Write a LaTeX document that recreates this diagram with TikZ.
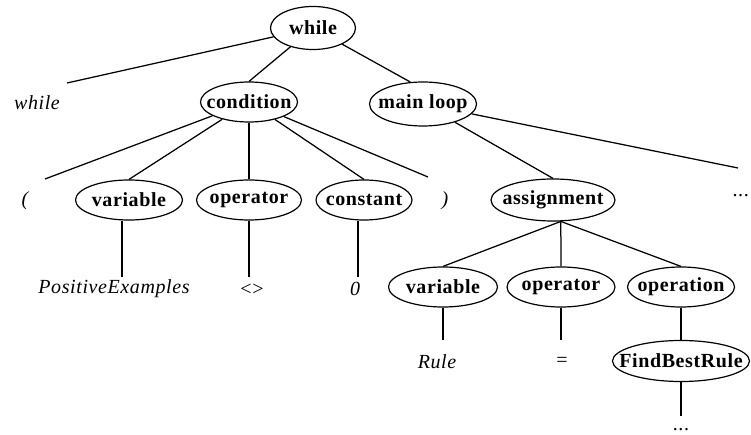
\documentclass[tikz,border=0pt]{standalone}
\usepackage{fontspec}
\setmainfont{Liberation Serif}
\newfontfamily\nodefont{Liberation Serif}[LetterSpace=3]
\newfontfamily\leaffont{Liberation Serif}[LetterSpace=3]
\usetikzlibrary{shapes.geometric}
\begin{document}
\begin{tikzpicture}[x=1pt,y=-1pt,
  edge/.style={line width=1.25pt},
  ell/.style 2 args={draw, ellipse, line width=1.2pt, inner sep=0pt, minimum width=#1pt, minimum height=#2pt},
  btxt/.style={font=\fontsize{20}{22}\nodefont\bfseries, inner sep=0pt},
  itxt/.style={font=\fontsize{20}{22}\leaffont\itshape, inner sep=0pt},
  rtxt/.style={font=\fontsize{20}{22}\leaffont, inner sep=0pt}]
\useasboundingbox (0,0) rectangle (751,435);
% ellipse nodes
\node[ell={85}{43}, label={[btxt]center:while}] (while) at (313,28) {};
\node[ell={97}{40}, label={[btxt]center:condition}] (condition) at (249,102) {};
\node[ell={107}{44}, label={[btxt]center:main loop}] (mainloop) at (423,104) {};
\node[ell={107}{40}, label={[btxt]center:variable}] (variable) at (129,200) {};
\node[ell={105}{40}, label={[btxt]center:operator}] (operator) at (249,200) {};
\node[ell={96}{40}, label={[btxt]center:constant}] (constant) at (364,200) {};
\node[ell={124}{42}, label={[btxt]center:assignment}] (assignment) at (553,200) {};
\node[ell={109}{40}, label={[btxt]center:variable}] (var2) at (443,287) {};
\node[ell={108}{40}, label={[btxt]center:operator}] (op2) at (561,287) {};
\node[ell={107}{40}, label={[btxt]center:operation}] (operation) at (681,287) {};
\node[ell={137}{41}, label={[btxt]center:FindBestRule}] (fbr) at (681,361) {};
% leaf texts
\node[itxt] (whiletxt) at (37,103) {while};
\node[itxt] (lp) at (25,201) {(};
\node[itxt] (rp) at (445,201) {)};
\node[rtxt, anchor=base east] (dots1) at (749,197) {...};
\node[itxt] (pe) at (114,289) {PositiveExamples};
\node[rtxt] (ne) at (252,290) {<>};
\node[itxt] (zero) at (355,289) {0};
\node[itxt] (rule) at (437,362) {Rule};
\node[rtxt] (eq) at (562,362) {=};
\node[rtxt, anchor=base] (dots2) at (681,430) {...};
% free line ends
\coordinate (wend) at (67,83);
\coordinate (lpend) at (45,179);
\coordinate (rpend) at (428,177);
\coordinate (d1end) at (738,168);
\coordinate (peend) at (122,277);
\coordinate (neend) at (249,277);
\coordinate (zend) at (358,277);
\coordinate (ruleend) at (443,340);
\coordinate (eqend) at (561,340);
\coordinate (d2end) at (681,416);
% connectors
\draw[edge] (while) -- (wend);
\draw[edge] (while) -- (condition.north);
\draw[edge] (while) -- (mainloop.120);
\draw[edge] (condition) -- (lpend);
\draw[edge] (condition) -- (variable.north);
\draw[edge] (condition) -- (operator);
\draw[edge] (condition) -- (constant.north);
\draw[edge] (condition) -- (rpend);
\draw[edge] (variable.south -| peend) -- (peend);
\draw[edge] (operator) -- (neend);
\draw[edge] (constant.south -| zend) -- (zend);
\draw[edge] (mainloop) -- (assignment.north);
\draw[edge] (mainloop) -- (d1end);
\draw[edge] (assignment.-70) -- (var2.north);
\draw[edge] (assignment.-70) -- (op2.north);
\draw[edge] (assignment.-70) -- (operation.north);
\draw[edge] (var2) -- (ruleend);
\draw[edge] (op2) -- (eqend);
\draw[edge] (operation) -- (fbr);
\draw[edge] (fbr) -- (d2end);
\end{tikzpicture}
\end{document}
